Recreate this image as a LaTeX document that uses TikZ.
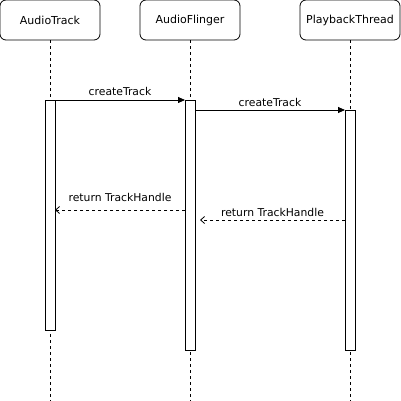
\documentclass[tikz,border=0pt]{standalone}
\usepackage{fontspec}
\setmainfont{DejaVu Sans}
\usetikzlibrary{arrows.meta}
\begin{document}
\begin{tikzpicture}[x=1pt,y=-1pt,
  actor/.style={draw,rounded corners=6pt,line width=0.8pt,minimum width=100pt,minimum height=40pt,inner sep=0pt,font=\fontsize{11}{13}\selectfont},
  life/.style={dashed,dash pattern=on 3pt off 3pt,line width=0.8pt},
  bar/.style={draw,fill=white,line width=0.8pt,minimum width=10pt,inner sep=0pt},
  call/.style={line width=0.8pt,-{Triangle[length=7pt,width=6pt]}},
  ret/.style={line width=0.8pt,dashed,dash pattern=on 3pt off 3pt,-{Straight Barb[length=4pt,width=7pt]}},
  lbl/.style={font=\fontsize{10.8}{12}\selectfont,inner sep=1pt}]
\useasboundingbox (0,0) rectangle (401,401);
\node[actor] (at) at (50,20) {AudioTrack};
\node[actor] (af) at (190,20) {AudioFlinger};
\node[actor] (pt) at (350,20) {PlaybackThread};
\coordinate (atE) at (50,401);
\coordinate (afE) at (190,401);
\coordinate (ptE) at (350,401);
\draw[life] (at.south) -- (atE);
\draw[life] (af.south) -- (afE);
\draw[life] (pt.south) -- (ptE);
\node[bar,minimum height=230pt] (atb) at (50,215) {};
\node[bar,minimum height=250pt] (afb) at (190,225) {};
\node[bar,minimum height=240pt] (ptb) at (350,230) {};
\coordinate (c1s) at (55,100);
\coordinate (c1e) at (185,100);
\coordinate (c2s) at (195,110);
\coordinate (c2e) at (345,110);
\coordinate (r1s) at (185,210);
\coordinate (r1e) at (55,210);
\coordinate (r2s) at (345,220);
\coordinate (r2e) at (200,220);
\draw[call] (c1s) -- node[lbl,above=3pt] {createTrack} (c1e);
\draw[call] (c2s) -- node[lbl,above=2pt] {createTrack} (c2e);
\draw[ret] (r1s) -- node[lbl,above=7pt] {return TrackHandle} (r1e);
\draw[ret] (r2s) -- node[lbl,above=2pt] {return TrackHandle} (r2e);
\end{tikzpicture}
\end{document}
